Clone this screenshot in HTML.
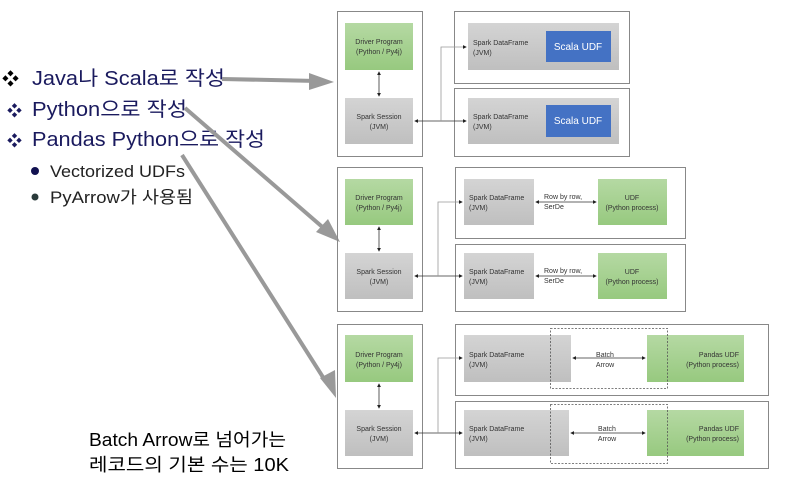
<!DOCTYPE html>
<html><head><meta charset="utf-8"><style>
html,body{margin:0;padding:0;background:#fff;width:790px;height:487px;overflow:hidden}
svg text{font-family:"Liberation Sans","Noto Sans CJK KR",sans-serif}
.s{font-size:7px;fill:#333}
</style></head><body>
<svg width="790" height="487" viewBox="0 0 790 487" xmlns="http://www.w3.org/2000/svg">
<defs>
<linearGradient id="g" x1="0" y1="0" x2="0" y2="1"><stop offset="0" stop-color="#d4d4d4"/><stop offset="1" stop-color="#bfbfbf"/></linearGradient>
<linearGradient id="gr" x1="0" y1="0" x2="0" y2="1"><stop offset="0" stop-color="#b5d9a3"/><stop offset="1" stop-color="#97c97f"/></linearGradient>
<marker id="a" markerWidth="5" markerHeight="5" refX="4" refY="2.5" orient="auto"><path d="M0,0L5,2.5L0,5z" fill="#222"/></marker>
<marker id="b" markerWidth="5" markerHeight="5" refX="1" refY="2.5" orient="auto"><path d="M5,0L0,2.5L5,5z" fill="#222"/></marker>
</defs>
<!-- left text -->
<g fill="#1a1a5e" font-size="20">
<text x="2" y="85" font-size="17" fill="#000">❖</text><text x="32" y="85" textLength="193" lengthAdjust="spacingAndGlyphs">Java나 Scala로 작성</text>
<text x="7" y="116" font-size="15" fill="#1a1a5e">❖</text><text x="32" y="116" textLength="155" lengthAdjust="spacingAndGlyphs">Python으로 작성</text>
<text x="7" y="146" font-size="15" fill="#1a1a5e">❖</text><text x="32" y="146" textLength="233" lengthAdjust="spacingAndGlyphs">Pandas Python으로 작성</text>
</g>
<circle cx="35" cy="171" r="4" fill="#111150"/><text x="50" y="177" font-size="17" fill="#222" textLength="135" lengthAdjust="spacingAndGlyphs">Vectorized UDFs</text>
<circle cx="35" cy="197" r="3.5" fill="#2a3a3a"/><text x="50" y="203" font-size="17" fill="#222" textLength="143" lengthAdjust="spacingAndGlyphs">PyArrow가 사용됨</text>
<text x="89" y="446" font-size="18" fill="#000" textLength="197" lengthAdjust="spacingAndGlyphs">Batch Arrow로 넘어가는</text>
<text x="89" y="471" font-size="18" fill="#000" textLength="200" lengthAdjust="spacingAndGlyphs">레코드의 기본 수는 10K</text>
<!-- big arrows -->
<g stroke="#999" stroke-width="4" fill="#999">
<line x1="222" y1="79" x2="318" y2="81"/>
<line x1="185" y1="108" x2="327" y2="231"/>
<line x1="182" y1="155" x2="326" y2="382"/>
</g>
<path d="M334,82 L309,73 L309,90 z" fill="#999"/>
<path d="M340,242 L316,232 L328,219 z" fill="#999"/>
<path d="M336,398 L320,378 L335,370 z" fill="#999"/>
<g fill="none" stroke="#888" stroke-width="1">
<rect x="337.5" y="11.5" width="85" height="145"/>
<rect x="454.5" y="11.5" width="175" height="72"/>
<rect x="454.5" y="88.5" width="175" height="68"/>
<rect x="337.5" y="167.5" width="85" height="144"/>
<rect x="455.5" y="167.5" width="230" height="71"/>
<rect x="455.5" y="244.5" width="230" height="67"/>
<rect x="337.5" y="324.5" width="85" height="144"/>
<rect x="455.5" y="324.5" width="313" height="71"/>
<rect x="455.5" y="401.5" width="313" height="67"/>
</g>
<g>
<rect x="345" y="23" width="68" height="47" fill="url(#gr)"/>
<rect x="345" y="98" width="68" height="46" fill="url(#g)"/>
<rect x="468" y="23" width="151" height="47" fill="url(#g)"/>
<rect x="546" y="31" width="65" height="31" fill="#4472c4"/>
<rect x="468" y="98" width="151" height="46" fill="url(#g)"/>
<rect x="546" y="105" width="65" height="32" fill="#4472c4"/>

<rect x="345" y="179" width="68" height="46" fill="url(#gr)"/>
<rect x="345" y="253" width="68" height="46" fill="url(#g)"/>
<rect x="464" y="179" width="70" height="46" fill="url(#g)"/>
<rect x="598" y="179" width="69" height="46" fill="url(#gr)"/>
<rect x="464" y="253" width="70" height="46" fill="url(#g)"/>
<rect x="598" y="253" width="69" height="46" fill="url(#gr)"/>

<rect x="345" y="335" width="68" height="47" fill="url(#gr)"/>
<rect x="345" y="410" width="68" height="46" fill="url(#g)"/>
<rect x="464" y="335" width="107" height="47" fill="url(#g)"/>
<rect x="647" y="335" width="97" height="47" fill="url(#gr)"/>
<rect x="464" y="410" width="105" height="46" fill="url(#g)"/>
<rect x="647" y="410" width="97" height="46" fill="url(#gr)"/>
</g>
<g fill="none" stroke="#555" stroke-width="0.8" stroke-dasharray="2,1.5">
<rect x="550.5" y="328.5" width="117" height="60"/>
<rect x="550.5" y="404.5" width="117" height="59"/>
</g>
<g stroke="#333" stroke-width="0.8" fill="none">
<line x1="379" y1="72" x2="379" y2="96" marker-start="url(#b)" marker-end="url(#a)"/>
<polyline points="415,121 466,121" marker-start="url(#b)" marker-end="url(#a)"/>
<polyline points="441,121 441,47 466,47" marker-end="url(#a)" stroke="#999"/>
<line x1="379" y1="227" x2="379" y2="251" marker-start="url(#b)" marker-end="url(#a)"/>
<polyline points="415,276 462,276" marker-start="url(#b)" marker-end="url(#a)"/>
<polyline points="438,276 438,202 462,202" marker-end="url(#a)" stroke="#999"/>
<line x1="536" y1="202" x2="596" y2="202" marker-start="url(#b)" marker-end="url(#a)"/>
<line x1="536" y1="276" x2="596" y2="276" marker-start="url(#b)" marker-end="url(#a)"/>
<line x1="379" y1="384" x2="379" y2="408" marker-start="url(#b)" marker-end="url(#a)"/>
<polyline points="415,433 462,433" marker-start="url(#b)" marker-end="url(#a)"/>
<polyline points="438,433 438,358 462,358" marker-end="url(#a)" stroke="#999"/>
<line x1="573" y1="358" x2="645" y2="358" marker-start="url(#b)" marker-end="url(#a)"/>
<line x1="571" y1="433" x2="645" y2="433" marker-start="url(#b)" marker-end="url(#a)"/>
</g>
<g class="s" text-anchor="middle">
<text x="379" y="44" class="s">Driver Program</text><text x="379" y="54" class="s">(Python / Py4j)</text>
<text x="379" y="119" class="s">Spark Session</text><text x="379" y="129" class="s">(JVM)</text>
<text x="379" y="200" class="s">Driver Program</text><text x="379" y="210" class="s">(Python / Py4j)</text>
<text x="379" y="274" class="s">Spark Session</text><text x="379" y="284" class="s">(JVM)</text>
<text x="379" y="357" class="s">Driver Program</text><text x="379" y="367" class="s">(Python / Py4j)</text>
<text x="379" y="431" class="s">Spark Session</text><text x="379" y="441" class="s">(JVM)</text>
<text x="632" y="200" class="s">UDF</text><text x="632" y="210" class="s">(Python process)</text>
<text x="632" y="274" class="s">UDF</text><text x="632" y="284" class="s">(Python process)</text>
<text x="605" y="357" class="s">Batch</text><text x="605" y="367" class="s">Arrow</text>
<text x="607" y="431" class="s">Batch</text><text x="607" y="441" class="s">Arrow</text>
</g>
<g class="s">
<text x="473" y="45" class="s">Spark DataFrame</text><text x="473" y="55" class="s">(JVM)</text>
<text x="473" y="119" class="s">Spark DataFrame</text><text x="473" y="129" class="s">(JVM)</text>
<text x="469" y="200" class="s">Spark DataFrame</text><text x="469" y="210" class="s">(JVM)</text>
<text x="469" y="274" class="s">Spark DataFrame</text><text x="469" y="284" class="s">(JVM)</text>
<text x="544" y="199" class="s">Row by row,</text><text x="544" y="209" class="s">SerDe</text>
<text x="544" y="273" class="s">Row by row,</text><text x="544" y="283" class="s">SerDe</text>
<text x="469" y="357" class="s">Spark DataFrame</text><text x="469" y="367" class="s">(JVM)</text>
<text x="469" y="431" class="s">Spark DataFrame</text><text x="469" y="441" class="s">(JVM)</text>
</g>
<g class="s" text-anchor="end">
<text x="739" y="357" class="s">Pandas UDF</text><text x="739" y="367" class="s">(Python process)</text>
<text x="739" y="431" class="s">Pandas UDF</text><text x="739" y="441" class="s">(Python process)</text>
</g>
<g fill="#fff" font-size="10" text-anchor="middle">
<text x="578" y="50">Scala UDF</text>
<text x="578" y="124">Scala UDF</text>
</g>
</svg>
</body></html>
